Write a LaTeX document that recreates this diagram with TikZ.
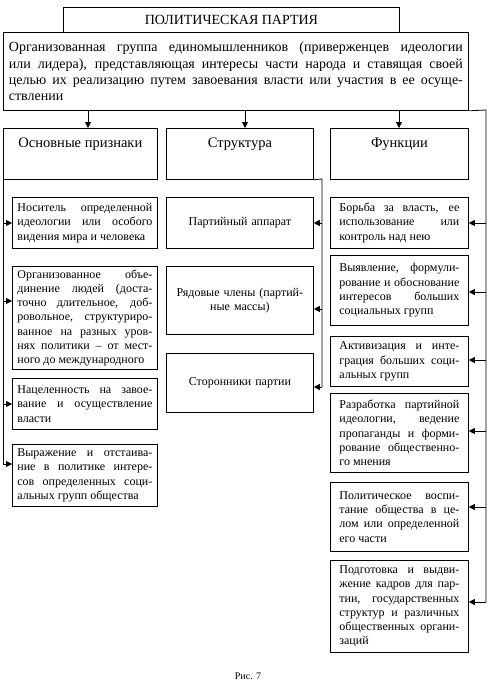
\documentclass[tikz,border=0pt]{standalone}
\usepackage{fontspec}
\setmainfont{Liberation Serif}
\usetikzlibrary{arrows.meta}
\newcommand\JL[1]{\hbox to \hsize{\spaceskip=.25em plus 1fil minus .05em\xspaceskip=\spaceskip\relax #1}\par}
\newcommand\LL[1]{\hbox to \hsize{\spaceskip=.25em\xspaceskip=.25em\relax #1\hfil}\par}
\begin{document}
\begin{tikzpicture}[x=1pt,y=-1pt,
  box/.style={draw, line width=0.8pt, inner sep=0pt, anchor=north west},
  big/.style={font=\fontsize{14}{16.3}\selectfont},
  head/.style={box, minimum width=#1, text height=19pt, text depth=32pt, font=\fontsize{14.5}{17}\selectfont},
  small/.style={font=\fontsize{12}{14.3}\selectfont},
  lbox/.style={box, small, minimum width=145pt, text width=135pt},
  mbox/.style={box, small, minimum width=147pt, text width=135pt, align=center},
  rbox/.style={box, small, minimum width=138pt, text width=120pt},
  ln/.style={line width=0.8pt},
  arr/.style={line width=0.8pt, -{Triangle[length=6pt,width=6pt]}}]
\useasboundingbox (0,0) rectangle (495,685);

% top
\node[box, big, minimum width=336pt, minimum height=25pt] (title) at (63,7) {ПОЛИТИЧЕСКАЯ ПАРТИЯ};
\node[box, big, minimum width=465pt, minimum height=78pt, text width=454pt] (def) at (3,32)
 {\JL{Организованная группа единомышленников (приверженцев идеологии}%
  \JL{или лидера), представляющая интересы части народа и ставящая своей}%
  \JL{целью их реализацию путем завоевания власти или участия в ее осуще-}%
  \LL{ствлении}};

% headings
\node[head=154pt] (h1) at (3,128) {Основные признаки};
\node[head=147pt] (h2) at (166,128) {Структура};
\node[head=138pt] (h3) at (330,128) {Функции};

% left column
\node[lbox, minimum height=51pt] (l1) at (12,197)
 {\JL{Носитель определенной}\JL{идеологии или особого}\LL{видения мира и человека}};
\node[lbox, minimum height=103pt] (l2) at (12,266)
 {\JL{Организованное объе-}\JL{динение людей (доста-}\JL{точно длительное, доб-}\JL{ровольное, структуриро-}\JL{ванное на разных уров-}\JL{нях политики – от мест-}\LL{ного до международного}};
\node[lbox, minimum height=51pt] (l3) at (12,378)
 {\JL{Нацеленность на завое-}\JL{вание и осуществление}\LL{власти}};
\node[lbox, minimum height=62pt] (l4) at (12,444)
 {\JL{Выражение и отстаива-}\JL{ние в политике интере-}\JL{сов определенных соци-}\LL{альных групп общества}};

% middle column
\node[mbox, minimum height=51pt] (m1) at (166,197) {Партийный аппарат};
\node[mbox, minimum height=68pt] (m2) at (166,266) {Рядовые члены (партий-\\ные массы)};
\node[mbox, minimum height=59pt] (m3) at (166,353) {Сторонники партии};

% right column
\node[rbox, minimum height=51pt] (r1) at (330,197)
 {\JL{Борьба за власть, ее}\JL{использование или}\LL{контроль над нею}};
\node[rbox, minimum height=70pt] (r2) at (330,255)
 {\JL{Выявление, формули-}\JL{рование и обоснование}\JL{интересов больших}\LL{социальных групп}};
\node[rbox, minimum height=50pt] (r3) at (330,336)
 {\JL{Активизация и инте-}\JL{грация больших соци-}\LL{альных групп}};
\node[rbox, minimum height=79pt] (r4) at (330,393)
 {\JL{Разработка партийной}\JL{идеологии, ведение}\JL{пропаганды и форми-}\JL{рование общественно-}\LL{го мнения}};
\node[rbox, minimum height=69pt] (r5) at (330,482)
 {\JL{Политическое воспи-}\JL{тание общества в це-}\JL{лом или определенной}\LL{его части}};
\node[rbox, minimum height=92pt] (r6) at (330,560)
 {\JL{Подготовка и выдви-}\JL{жение кадров для пар-}\JL{тии, государственных}\JL{структур и различных}\JL{общественных органи-}\LL{заций}};

\node[font=\fontsize{10}{12}\selectfont] (cap) at (248,676) {Рис. 7};

% drops from definition
\coordinate (d1) at (88,110);
\coordinate (d2) at (245,110);
\coordinate (d3) at (399,110);
\draw[arr] (d1) -- (d1 |- h1.north);
\draw[arr] (d2) -- (d2 |- h2.north);
\draw[arr] (d3) -- (d3 |- h3.north);

% left spine
\coordinate (lb) at (3,464);
\draw[ln] (h1.south west) -- (lb);
\coordinate (la1) at (3,223);
\coordinate (la2) at (3,301);
\coordinate (la3) at (3,404);
\draw[arr] (la1) -- (la1 -| l1.west);
\draw[arr] (la2) -- (la2 -| l2.west);
\draw[arr] (la3) -- (la3 -| l3.west);
\draw[arr] (lb) -- (lb -| l4.west);

% middle spine
\coordinate (mt) at (322,179);
\coordinate (mb) at (322,387);
\draw[ln] (h2.south east) -- (mt) -- (mb);
\coordinate (ma1) at (322,223);
\coordinate (ma2) at (322,309);
\draw[arr] (ma1) -- (ma1 -| m1.east);
\draw[arr] (ma2) -- (ma2 -| m2.east);
\draw[arr] (mb) -- (mb -| m3.east);

% right spine
\coordinate (rt) at (486,110);
\coordinate (rb) at (486,602);
\draw[ln] (def.south east) -- (rt) -- (rb);
\coordinate (ra1) at (486,223);
\coordinate (ra2) at (486,292);
\coordinate (ra3) at (486,360);
\coordinate (ra4) at (486,431);
\coordinate (ra5) at (486,507);
\draw[arr] (ra1) -- (ra1 -| r1.east);
\draw[arr] (ra2) -- (ra2 -| r2.east);
\draw[arr] (ra3) -- (ra3 -| r3.east);
\draw[arr] (ra4) -- (ra4 -| r4.east);
\draw[arr] (ra5) -- (ra5 -| r5.east);
\draw[arr] (rb) -- (rb -| r6.east);
\end{tikzpicture}
\end{document}
